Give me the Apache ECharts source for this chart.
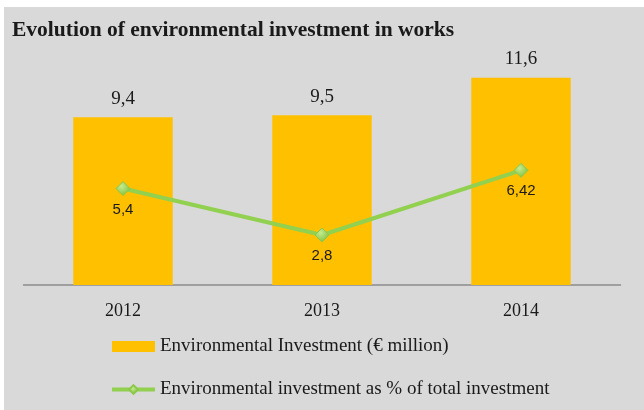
<!DOCTYPE html>
<html><head><meta charset="utf-8">
<script src="https://cdn.jsdelivr.net/npm/echarts@6/dist/echarts.min.js"></script>
<style>html,body{margin:0;padding:0;background:#fff}#c{width:644px;height:410px}</style>
</head><body><div id="c"></div>
<script>
const categories = ['2012', '2013', '2014'];
const investment = [9.4, 9.5, 11.6];
const investmentPct = [5.4, 2.8, 6.42];
const seriesNames = ['Environmental Investment (€ million)', 'Environmental investment as % of total investment'];
const titleText = 'Evolution of environmental investment in works';

const fmt = v => String(v).replace('.', ',');
const serif = '"Liberation Serif", "DejaVu Serif", serif';
const chart = echarts.init(document.getElementById('c'));
chart.setOption({
  backgroundColor: '#fff',
  animation: false,
  graphic: [{type: 'rect', shape: {x: 4, y: 7, width: 640, height: 403}, style: {fill: '#d9d9d9'}, z: -10, silent: true}],
  title: {text: titleText, left: 7, top: 14, textStyle: {fontFamily: serif, fontWeight: 'bold', fontSize: 21.5, color: '#1a1a1a'}},
  legend: {
    orient: 'vertical', left: 105, top: 332, itemGap: 24, itemWidth: 43, itemHeight: 11,
    textStyle: {fontFamily: serif, fontSize: 19, color: '#1a1a1a'},
    data: [
      {name: seriesNames[0], icon: 'rect'},
      {name: seriesNames[1], lineStyle: {width: 4, color: '#92d050'}}
    ]
  },
  grid: {left: 23.5, right: 23.5, top: 35, bottom: 125, containLabel: false},
  xAxis: {
    type: 'category', data: categories,
    axisLine: {lineStyle: {color: '#8c8c8c', width: 1.5}},
    axisTick: {show: false},
    axisLabel: {margin: 17, fontFamily: serif, fontSize: 18, color: '#1a1a1a'}
  },
  yAxis: {type: 'value', min: 0, max: 14, show: false, splitLine: {show: false}},
  series: [
    {
      name: seriesNames[0], type: 'bar', data: investment, barWidth: '50%',
      itemStyle: {color: '#ffc000'},
      label: {show: true, position: 'top', distance: 9, formatter: p => fmt(p.value), fontFamily: serif, fontSize: 19, color: '#1a1a1a'}
    },
    {
      name: seriesNames[1], type: 'line', data: investmentPct,
      lineStyle: {color: '#92d050', width: 4},
      symbol: 'diamond', symbolSize: 14,
      itemStyle: {color: new echarts.graphic.RadialGradient(0.4, 0.35, 0.7, [{offset: 0, color: '#c6eb8f'}, {offset: 1, color: '#7bbf3a'}]), borderColor: '#8cc84b', borderWidth: 1},
      label: {show: true, position: 'bottom', distance: 6, formatter: p => fmt(p.value), fontFamily: '"Liberation Sans", sans-serif', fontSize: 15, color: '#1a1a1a'},
      z: 5
    }
  ]
});
</script></body></html>
